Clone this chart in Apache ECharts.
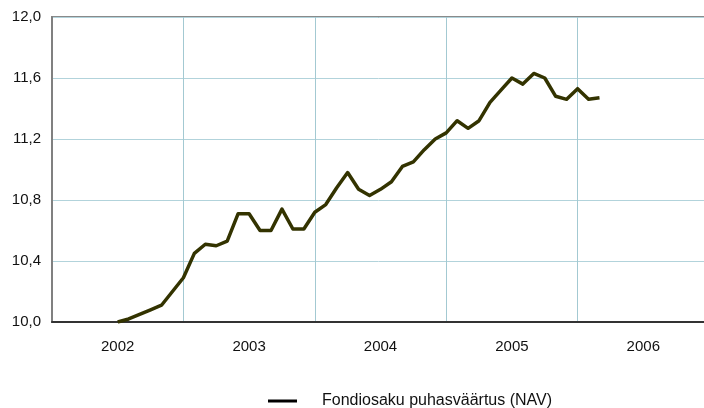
<!DOCTYPE html>
<html><head><meta charset="utf-8">
<script src="https://cdn.jsdelivr.net/npm/echarts@6/dist/echarts.min.js"></script>
<style>html,body{margin:0;padding:0;background:#fff;overflow:hidden}#c{width:704px;height:408px}</style>
</head><body><div id="c"></div>
<script>
const yearLabels = ['2002','2003','2004','2005','2006'];
const startYear = 2002;
const startMonth = 6; // July 2002 (0-based month index)
const navValues = [10.00,10.02,10.05,10.08,10.11,10.20,10.29,10.45,10.51,10.50,10.53,10.71,10.71,10.60,10.60,10.74,10.61,10.61,10.72,10.77,10.88,10.98,10.87,10.83,10.87,10.92,11.02,11.05,11.13,11.20,11.24,11.32,11.27,11.32,11.44,11.52,11.60,11.56,11.63,11.60,11.48,11.46,11.53,11.46,11.47];
const seriesName = 'Fondiosaku puhasväärtus (NAV)';

const data = navValues.map((v,i)=>[startYear + (startMonth+i)/12, v]);
const font = 'Liberation Sans, Arial, sans-serif';
const chart = echarts.init(document.getElementById('c'));
chart.setOption({
  animation:false,
  grid:{left:52,width:657,top:17,height:305,show:true,borderColor:'#8a8a8a',borderWidth:2,containLabel:false,outerBoundsMode:'none'},
  xAxis:[{
    type:'value',min:2002,max:2007,interval:1,
    axisLabel:{show:false},axisTick:{show:false},
    axisLine:{show:true,onZero:false,lineStyle:{color:'#333',width:2}},
    splitLine:{show:true,lineStyle:{color:'#a3c9d2',width:1}}
  },{
    type:'category',data:yearLabels,boundaryGap:true,position:'bottom',
    axisLine:{show:false},axisTick:{show:false},splitLine:{show:false},
    axisLabel:{color:'#111',fontSize:15,fontFamily:font,margin:17}
  }],
  yAxis:{
    type:'value',min:10,max:12,interval:0.4,
    axisLine:{show:true,lineStyle:{color:'#808080',width:2}},
    axisTick:{show:false},
    axisLabel:{color:'#111',fontSize:15,fontFamily:font,margin:11,formatter:v=>v.toFixed(1).replace('.',',')},
    splitLine:{show:true,lineStyle:{color:'#b2d3db',width:1}}
  },
  legend:{
    left:263,top:388,itemWidth:29,itemHeight:3,icon:'rect',
    data:[{name:seriesName,itemStyle:{color:'#000'}}],
    textStyle:{color:'#111',fontSize:16,fontFamily:font,padding:[0,0,0,20]}
  },
  series:[{
    name:seriesName,type:'line',xAxisIndex:0,data:data,
    showSymbol:false,symbol:'none',
    lineStyle:{color:'#333300',width:3.5,join:'round'},
    itemStyle:{color:'#333300'}
  }]
});
</script></body></html>
